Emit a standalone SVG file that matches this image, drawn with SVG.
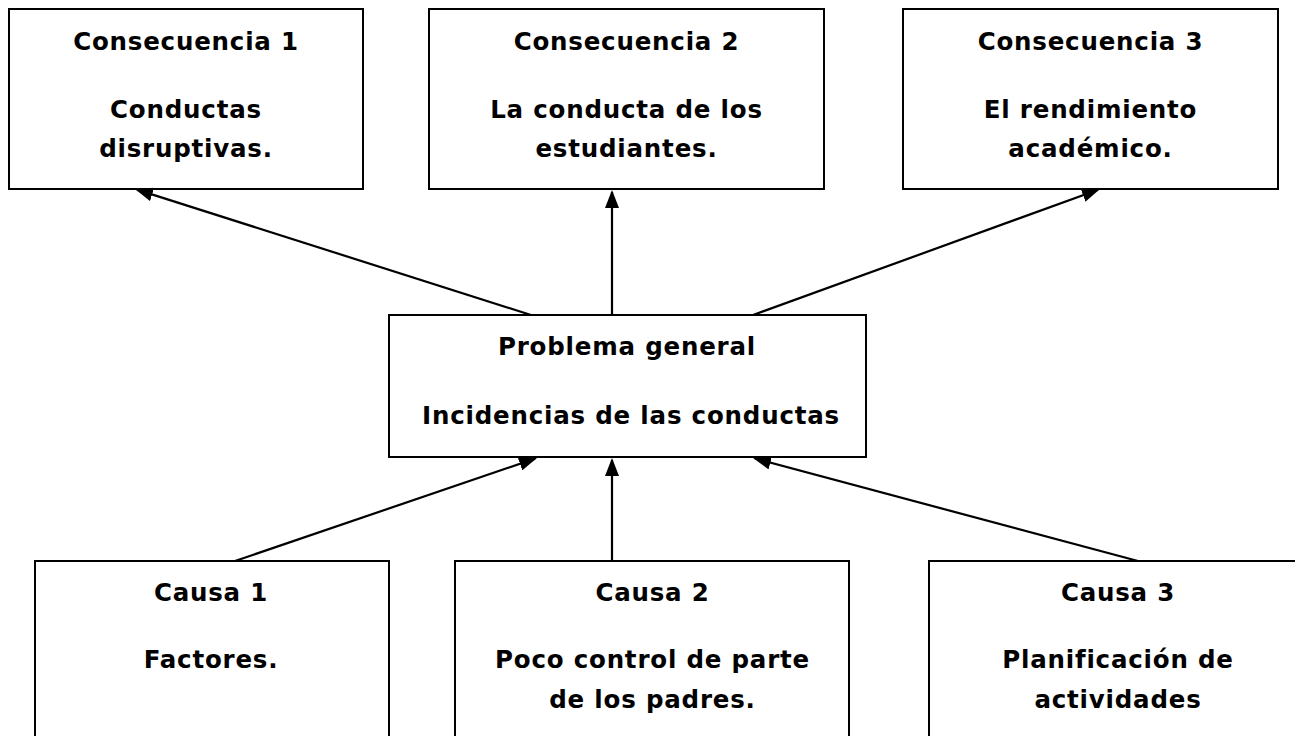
<svg xmlns="http://www.w3.org/2000/svg" width="1295" height="736" viewBox="0 0 1295 736">
<style>
.box{fill:#fff;stroke:#000;stroke-width:2}
.t{font-family:"DejaVu Sans","Liberation Sans",sans-serif;font-weight:bold;font-size:24.5px;letter-spacing:0.8px;fill:#000;text-anchor:middle}
.c{stroke:#000;stroke-width:2.2;fill:none;marker-end:url(#ah)}
</style>
<defs>
<marker id="ah" viewBox="0 0 18 14" refX="16" refY="7" markerWidth="18" markerHeight="14" markerUnits="userSpaceOnUse" orient="auto">
<path d="M0,0 L18,7 L0,14 Z" fill="#000"/>
</marker>
</defs>
<g id="consecuencia1">
<rect class="box" x="9" y="9" width="354" height="180"/>
<text class="t" x="186" y="50">Consecuencia 1</text>
<text class="t" x="186" y="118">Conductas</text>
<text class="t" x="186" y="157">disruptivas.</text>
</g>
<g id="consecuencia2">
<rect class="box" x="429" y="9" width="395" height="180"/>
<text class="t" x="626.5" y="50">Consecuencia 2</text>
<text class="t" x="626.5" y="118">La conducta de los</text>
<text class="t" x="626.5" y="157">estudiantes.</text>
</g>
<g id="consecuencia3">
<rect class="box" x="903" y="9" width="375" height="180"/>
<text class="t" x="1090.5" y="50">Consecuencia 3</text>
<text class="t" x="1090.5" y="118">El rendimiento</text>
<text class="t" x="1090.5" y="157">académico.</text>
</g>
<g id="problema">
<rect class="box" x="389" y="315" width="477" height="142"/>
<text class="t" x="627" y="355">Problema general</text>
<text class="t" x="631" y="424">Incidencias de las conductas</text>
</g>
<g id="causa1">
<rect class="box" x="35" y="561" width="354" height="200"/>
<text class="t" x="211" y="601">Causa 1</text>
<text class="t" x="211" y="668">Factores.</text>
</g>
<g id="causa2">
<rect class="box" x="455" y="561" width="394" height="200"/>
<text class="t" x="652.5" y="601">Causa 2</text>
<text class="t" x="652.5" y="668">Poco control de parte</text>
<text class="t" x="652.5" y="708">de los padres.</text>
</g>
<g id="causa3">
<rect class="box" x="929" y="561" width="400" height="200"/>
<text class="t" x="1118" y="601">Causa 3</text>
<text class="t" x="1118" y="668">Planificación de</text>
<text class="t" x="1118" y="708">actividades</text>
</g>
<g id="connectors">
<line class="c" x1="531" y1="315" x2="136.9" y2="189.6"/>
<line class="c" x1="612" y1="315" x2="612" y2="192"/>
<line class="c" x1="753" y1="315" x2="1098.1" y2="189.7"/>
<line class="c" x1="235" y1="561" x2="535.1" y2="458.6"/>
<line class="c" x1="612" y1="561" x2="612" y2="460"/>
<line class="c" x1="1138" y1="561" x2="754.9" y2="458.5"/>
</g>
</svg>
